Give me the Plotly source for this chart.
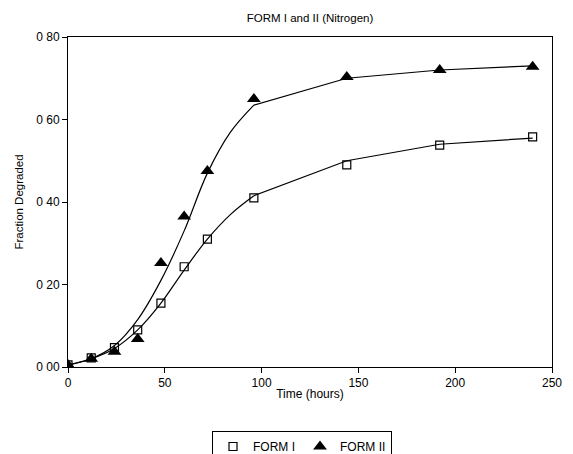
import plotly.graph_objects as go

# Data
time_h = [0, 12, 24, 36, 48, 60, 72, 96, 144, 192, 240]
form1 = [0.005, 0.022, 0.047, 0.09, 0.155, 0.243, 0.31, 0.41, 0.49, 0.538, 0.558]
form2 = [0.005, 0.02, 0.037, 0.068, 0.252, 0.365, 0.475, 0.65, 0.703, 0.72, 0.728]

# Fitted curves: smooth rise, then straight segments
fit_t_rise = [0, 12, 24, 36, 48, 60, 72, 84, 96]
fit1_rise = [0.005, 0.02, 0.045, 0.09, 0.155, 0.235, 0.31, 0.37, 0.415]
fit2_rise = [0.005, 0.02, 0.052, 0.115, 0.21, 0.33, 0.47, 0.57, 0.635]
fit_t_tail = [96, 144, 192, 240]
fit1_tail = [0.415, 0.5, 0.54, 0.555]
fit2_tail = [0.635, 0.70, 0.72, 0.73]

y_ticks = [0, 0.2, 0.4, 0.6, 0.8]
y_labels = ["0 00", "0 20", "0 40", "0 60", "0 80"]
x_ticks = [0, 50, 100, 150, 200, 250]

font_name = "Liberation Sans"
line_style = dict(color="black", width=1.2)

fig = go.Figure()
for xs, ys, shape in [(fit_t_rise, fit1_rise, "spline"), (fit_t_tail, fit1_tail, "linear"),
                      (fit_t_rise, fit2_rise, "spline"), (fit_t_tail, fit2_tail, "linear")]:
    fig.add_trace(go.Scatter(x=xs, y=ys, mode="lines", line=dict(**line_style, shape=shape),
                             showlegend=False, hoverinfo="skip"))
fig.add_trace(go.Scatter(x=time_h, y=form1, mode="markers", name="FORM I",
                         marker=dict(symbol="square-open", size=8, color="black", line=dict(width=1.2, color="black"))))
fig.add_trace(go.Scatter(x=time_h, y=form2, mode="markers", name="FORM II",
                         marker=dict(symbol="triangle-up", size=12, color="black")))

fig.update_layout(
    width=573, height=454,
    margin=dict(l=68, r=21, t=37, b=87, autoexpand=False),
    paper_bgcolor="white", plot_bgcolor="white",
    font=dict(family=font_name, size=12, color="black"),
    title=dict(text="FORM I and II (Nitrogen)", x=310/573, xanchor="center", y=1-18/454, yanchor="middle",
               font=dict(size=11.5, family=font_name)),
    xaxis=dict(range=[0, 250], tickvals=x_ticks, ticks="outside", ticklen=5, tickcolor="black",
               showline=True, linecolor="black", linewidth=1, mirror=True, showgrid=False, zeroline=False,
               title=dict(text="Time (hours)", font=dict(size=12), standoff=0),
               tickfont=dict(size=12)),
    yaxis=dict(range=[0, 0.8], tickvals=y_ticks, ticktext=y_labels, ticks="outside", ticklen=5, tickcolor="black",
               showline=True, linecolor="black", linewidth=1, mirror=True, showgrid=False, zeroline=False,
               title=dict(text="Fraction Degraded", font=dict(size=11.5), standoff=10),
               tickfont=dict(size=12)),
    legend=dict(orientation="h", x=(302 - 68) / 484, xanchor="center", y=-(431 - 367) / 330, yanchor="top",
                bordercolor="black", borderwidth=1, font=dict(size=12), bgcolor="white"),
)

fig.write_html("out.html")
